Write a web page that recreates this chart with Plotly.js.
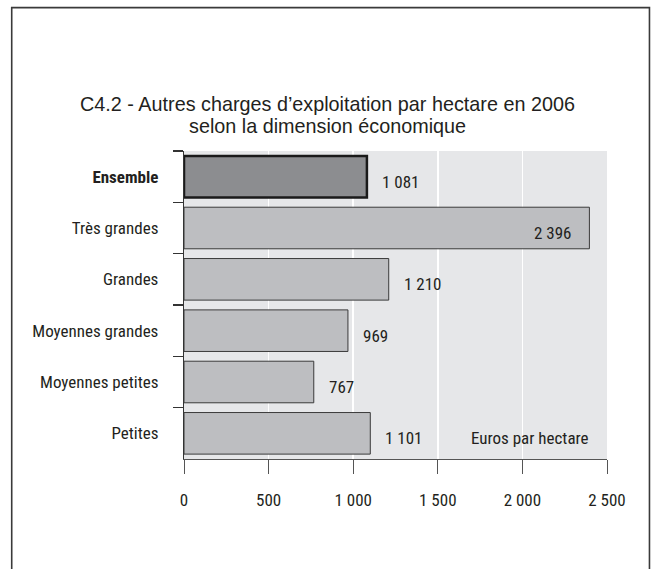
<!DOCTYPE html>
<html>
<head>
<meta charset="utf-8">
<script src="https://cdn.plot.ly/plotly-3.0.1.min.js"></script>
<style>html,body{margin:0;padding:0;background:#fff;}#chart{width:655px;height:569px;}</style>
</head>
<body>
<div id="chart"></div>
<script>
const categories = ["Ensemble", "Très grandes", "Grandes", "Moyennes grandes", "Moyennes petites", "Petites"];
const values = [1081, 2396, 1210, 969, 767, 1101];
const xTicks = [0, 500, 1000, 1500, 2000, 2500];
const highlight = "Ensemble";
const unitLabel = "Euros par hectare";
const titleLines = ["C4.2 - Autres charges d’exploitation par hectare en 2006", "selon la dimension économique"];

const COND = "'Roboto Condensed', 'Liberation Sans Narrow', 'DejaVu Sans Condensed', 'Liberation Sans', sans-serif";
const TITLEF = "'Liberation Sans', Arial, sans-serif";
const fmt = v => String(v).replace(/\B(?=(\d{3})+(?!\d))/g, ' ');
const labels = categories.map(c => c === highlight ? '<b>' + c + '</b>' : c);

const trace = {
  type: 'bar',
  orientation: 'h',
  x: values,
  y: labels,
  width: 0.81,
  marker: {
    color: categories.map(c => c === highlight ? '#8c8d90' : '#bdbec1'),
    line: {
      color: categories.map(c => c === highlight ? '#1a1a1a' : '#3a3a3a'),
      width: categories.map(c => c === highlight ? 2.5 : 1)
    }
  },
  hoverinfo: 'none'
};

const maxV = Math.max(...values);
const annotations = values.map((v, i) => ({
  x: v, y: labels[i], xref: 'x', yref: 'y',
  text: fmt(v), showarrow: false,
  xanchor: v === maxV ? 'right' : 'left',
  xshift: v === maxV ? -16 : 13,
  yshift: -5,
  font: {family: COND, size: 17, color: '#231f20'}
}));
annotations.push({
  x: 0.963, y: 0.069, xref: 'paper', yref: 'paper', xanchor: 'right', yanchor: 'middle',
  text: unitLabel, showarrow: false,
  font: {family: COND, size: 17, color: '#231f20'}
});
annotations.push({
  x: (327.5 - 184) / 423.5, xref: 'paper', xanchor: 'center',
  y: (459.3 - 126) / 308.3, yref: 'paper', yanchor: 'middle',
  text: titleLines[1], showarrow: false,
  font: {family: TITLEF, size: 19.8, color: '#231f20'}
});

const layout = {
  width: 655, height: 569,
  margin: {l: 184, r: 47.5, t: 151, b: 109.7},
  paper_bgcolor: '#ffffff',
  plot_bgcolor: '#e6e7e9',
  separators: ', ',
  showlegend: false,
  title: {
    text: titleLines[0],
    font: {family: TITLEF, size: 19.8, color: '#231f20'},
    x: 0.5, xref: 'container', xanchor: 'center',
    y: 1 - 104 / 569, yref: 'container', yanchor: 'middle'
  },
  xaxis: {
    range: [0, 2500],
    tickvals: xTicks,
    tickformat: ',d',
    showgrid: true, gridcolor: '#ffffff', gridwidth: 1.5,
    zeroline: false,
    showline: true, linecolor: '#555', linewidth: 1,
    ticks: 'outside', ticklen: 14, tickcolor: '#555', tickwidth: 1,
    ticklabelstandoff: 12,
    tickfont: {family: COND, size: 17, color: '#231f20'},
    fixedrange: true
  },
  yaxis: {
    type: 'category',
    autorange: 'reversed',
    showgrid: false, zeroline: false,
    showline: true, linecolor: '#333', linewidth: 1.2,
    ticks: 'outside', tickson: 'boundaries', ticklen: 10, tickcolor: '#333', tickwidth: 1.2,
    ticklabelstandoff: 21,
    tickfont: {family: COND, size: 17, color: '#231f20'},
    fixedrange: true
  },
  shapes: [{
    type: 'path', xref: 'paper', yref: 'paper',
    path: 'M -0.4073,-0.5 L -0.4073,1.4655 L 1.1004,1.4655 L 1.1004,-0.5',
    line: {color: '#3a3a3a', width: 1.6}
  }],
  annotations: annotations
};

Plotly.newPlot('chart', [trace], layout, {displayModeBar: false, staticPlot: true});
</script>
</body>
</html>
